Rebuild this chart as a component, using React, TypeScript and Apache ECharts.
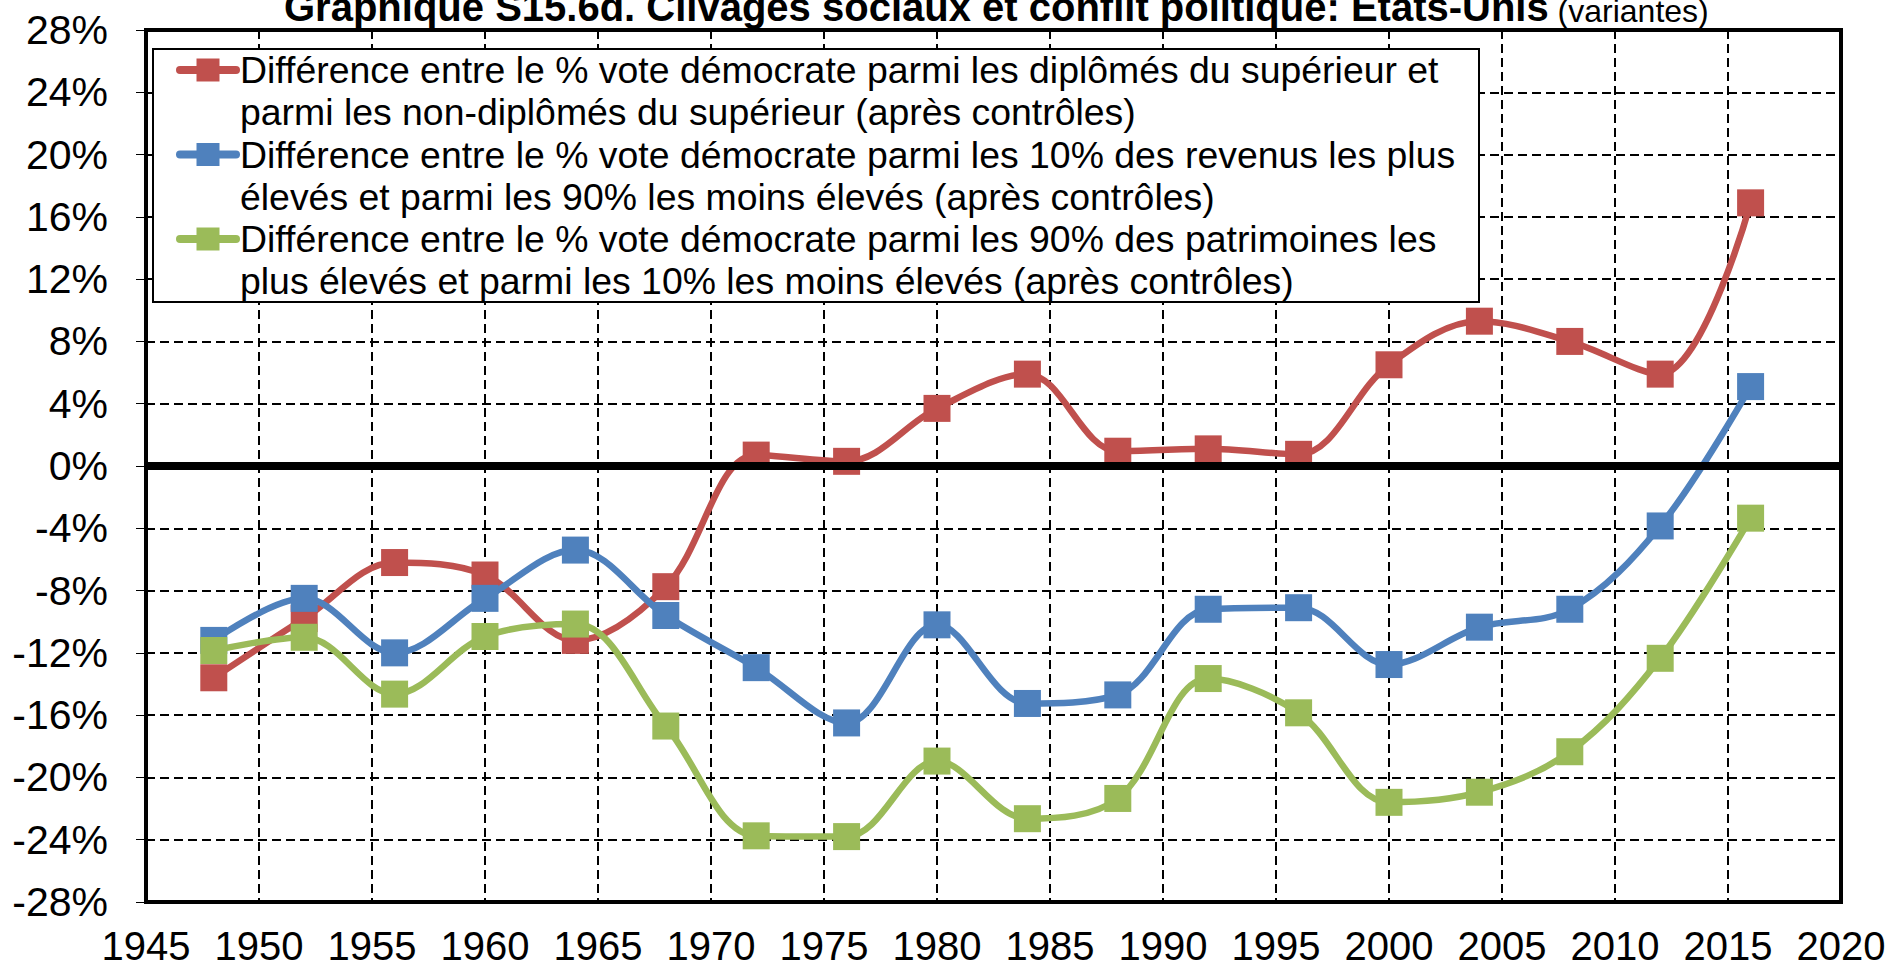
import React, { useEffect, useRef } from "react";
import * as echarts from "echarts";

const years = [1948, 1952, 1956, 1960, 1964, 1968, 1972, 1976, 1980, 1984, 1988, 1992, 1996, 2000, 2004, 2008, 2012, 2016];
const educationGap = [-13.6, -9.8, -6.2, -7.0, -11.2, -7.75, 0.7, 0.3, 3.7, 5.9, 0.95, 1.1, 0.75, 6.5, 9.3, 8.0, 5.9, 16.9];
const incomeGap = [-11.2, -8.5, -12.0, -8.5, -5.4, -9.6, -12.95, -16.5, -10.2, -15.25, -14.7, -9.2, -9.1, -12.75, -10.35, -9.2, -3.85, 5.1];
const wealthGap = [-11.85, -11.0, -14.65, -10.95, -10.15, -16.7, -23.75, -23.8, -18.95, -22.65, -21.35, -13.65, -15.85, -21.6, -20.95, -18.35, -12.35, -3.35];

const seriesNames = [
  "Différence entre le % vote démocrate parmi les diplômés du supérieur et\nparmi les non-diplômés du supérieur (après contrôles)",
  "Différence entre le % vote démocrate parmi les 10% des revenus les plus\nélevés et parmi les 90% les moins élevés (après contrôles)",
  "Différence entre le % vote démocrate parmi les 90% des patrimoines les\nplus élevés et parmi les 10% les moins élevés (après contrôles)",
];
const seriesColors = ["#C0504D", "#4F81BD", "#9BBB59"];
const titleMain = "Graphique S15.6d. Clivages sociaux et conflit politique: Etats-Unis";
const titleSub = "(variantes)";

const FONT = "Liberation Sans, Arial, sans-serif";

export default function App() {
  const ref = useRef<HTMLDivElement>(null);
  useEffect(() => {
    document.body.style.margin = "0";
    const chart = echarts.init(ref.current!, null, { renderer: "svg" });
    const allData = [educationGap, incomeGap, wealthGap];

    const legendEls: any[] = [
      {
        type: "rect",
        shape: { x: 153, y: 49, width: 1326, height: 253 },
        style: { fill: "#fff", stroke: "#000", lineWidth: 2 },
        z: 100,
      },
    ];
    seriesNames.forEach((name, i) => {
      const top = 49 + i * 84.5;
      const cy = top + 21;
      legendEls.push({
        type: "line",
        shape: { x1: 180, y1: cy, x2: 236, y2: cy },
        style: { stroke: seriesColors[i], lineWidth: 8, lineCap: "round" },
        z: 101,
      });
      legendEls.push({
        type: "rect",
        shape: { x: 208 - 11.5, y: cy - 11.5, width: 23, height: 23 },
        style: { fill: seriesColors[i] },
        z: 102,
      });
      legendEls.push({
        type: "text",
        x: 240,
        y: top,
        style: {
          text: name,
          fill: "#000",
          fontSize: 37.4,
          fontFamily: FONT,
          lineHeight: 42.25,
          textVerticalAlign: "top",
          verticalAlign: "top",
        },
        z: 102,
      });
    });

    chart.setOption({
      animation: false,
      backgroundColor: "#fff",
      title: {
        text: `{b|${titleMain}}{n|\u00a0${titleSub}}`,
        left: 279,
        top: -18,
        textStyle: {
          fontWeight: "normal",
          rich: {
            b: { fontSize: 40, fontWeight: "bold", fontFamily: FONT, color: "#000", lineHeight: 40, verticalAlign: "bottom" },
            n: { fontSize: 32, fontWeight: "normal", fontFamily: FONT, color: "#000", lineHeight: 40, verticalAlign: "bottom" },
          },
        },
      },
      grid: {
        left: 146,
        right: 48,
        top: 30,
        bottom: 69,
        show: true,
        borderColor: "#000",
        borderWidth: 4,
        backgroundColor: "#fff",
      },
      xAxis: {
        type: "value",
        min: 1945,
        max: 2020,
        interval: 5,
        axisLine: { show: false },
        axisTick: { show: false },
        axisLabel: {
          formatter: (v: number) => String(v),
          fontSize: 40,
          fontFamily: FONT,
          color: "#000",
          margin: 24,
        },
        splitLine: { show: true, lineStyle: { color: "#000", width: 2, type: [9, 5] } },
      },
      yAxis: {
        type: "value",
        min: -28,
        max: 28,
        interval: 4,
        axisLine: { show: false },
        axisTick: { show: true, length: 10, lineStyle: { color: "#000", width: 1 } },
        axisLabel: {
          formatter: (v: number) => `${v}%`,
          fontSize: 41,
          fontFamily: FONT,
          color: "#000",
          margin: 38,
        },
        splitLine: { show: true, lineStyle: { color: "#000", width: 2, type: [9, 5] } },
      },
      series: allData.map((d, i) => ({
        type: "line",
        name: seriesNames[i],
        data: years.map((y, k) => [y, d[k]]),
        smooth: 0.35,
        symbol: "rect",
        symbolSize: 27,
        showSymbol: true,
        lineStyle: { color: seriesColors[i], width: 6.5 },
        itemStyle: { color: seriesColors[i] },
        z: 3 + i,
        markLine:
          i === 0
            ? {
                silent: true,
                symbol: ["none", "none"],
                label: { show: false },
                lineStyle: { color: "#000", width: 8, type: "solid" },
                data: [{ yAxis: 0 }],
              }
            : undefined,
      })),
      graphic: legendEls,
    });
    return () => chart.dispose();
  }, []);
  return <div ref={ref} style={{ width: 1889, height: 971, position: "fixed", left: 0, top: 0 }} />;
}
